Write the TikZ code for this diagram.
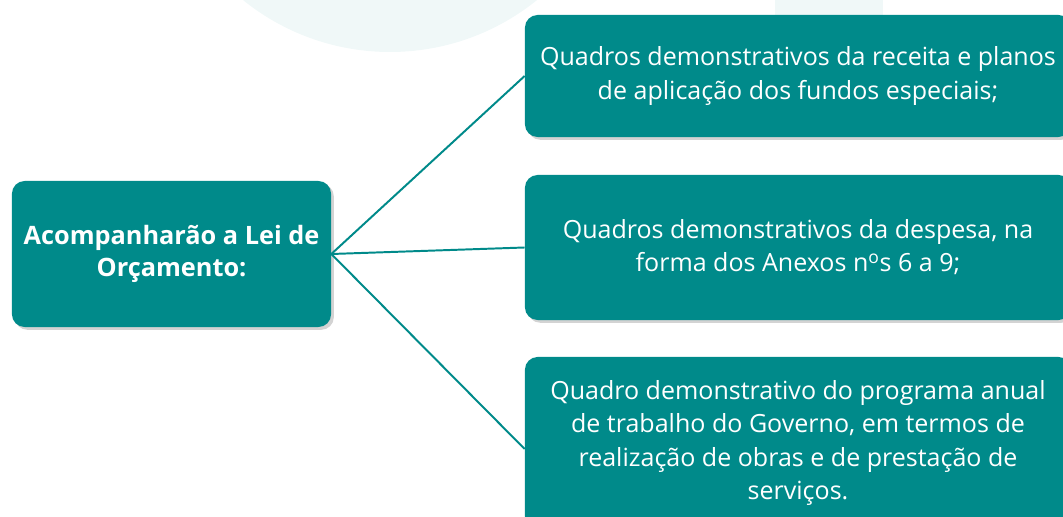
\documentclass[tikz,border=0pt]{standalone}
\usepackage{fontspec}
\setmainfont{Open Sans}
\usetikzlibrary{shadows}
\definecolor{teal1}{HTML}{008A8A}
\definecolor{paleteal}{HTML}{F0F8F8}
\tikzset{%
  box/.style      = {shape=rectangle, rounded corners=9pt, fill=teal1,%
                     text=white, align=center, inner sep=0pt,%
                     drop shadow={shadow xshift=2pt, shadow yshift=-2pt, opacity=0.35}},%
  headbox/.style  = {box, font=\fontsize{18}{22.5}\selectfont\bfseries,%
                     minimum width=7.975cm, minimum height=3.65cm},%
  itembox/.style  = {box, font=\fontsize{17.8}{23.5}\selectfont,%
                     minimum width=13.65cm},%
  link/.style     = {draw=teal1, line width=1.4pt}%
}
\begin{document}
\begin{tikzpicture}[x=0.025cm,y=-0.025cm]
	\useasboundingbox (0,0) rectangle (1063,517);
	% faint background shapes
	\fill [paleteal] (390,-182) circle (234);
	\fill [paleteal] (775,0) rectangle (883,30);
	% boxes
	\node [headbox] (head) at (171.5,254) {Acompanharão a Lei de\\Orçamento:};
	\node [itembox, minimum height=3.05cm] (rec) at (798,76)
		{Quadros demonstrativos da receita e planos\\de aplicação dos fundos especiais;};
	\node [itembox, minimum height=3.625cm] (desp) at (798,247.5)
		{Quadros demonstrativos da despesa, na\\forma dos Anexos n\textsuperscript{o}s 6 a 9;};
	\node [itembox, minimum height=4.3cm] (prog) at (798,443)
		{Quadro demonstrativo do programa anual\\de trabalho do Governo, em termos de\\realização de obras e de prestação de\\serviços.};
	% connectors
	\draw [link] (head.east) -- (rec.west);
	\draw [link] (head.east) -- (desp.west);
	\draw [link] (head.east) -- ([yshift=-0.15cm]prog.west);
\end{tikzpicture}
\end{document}
